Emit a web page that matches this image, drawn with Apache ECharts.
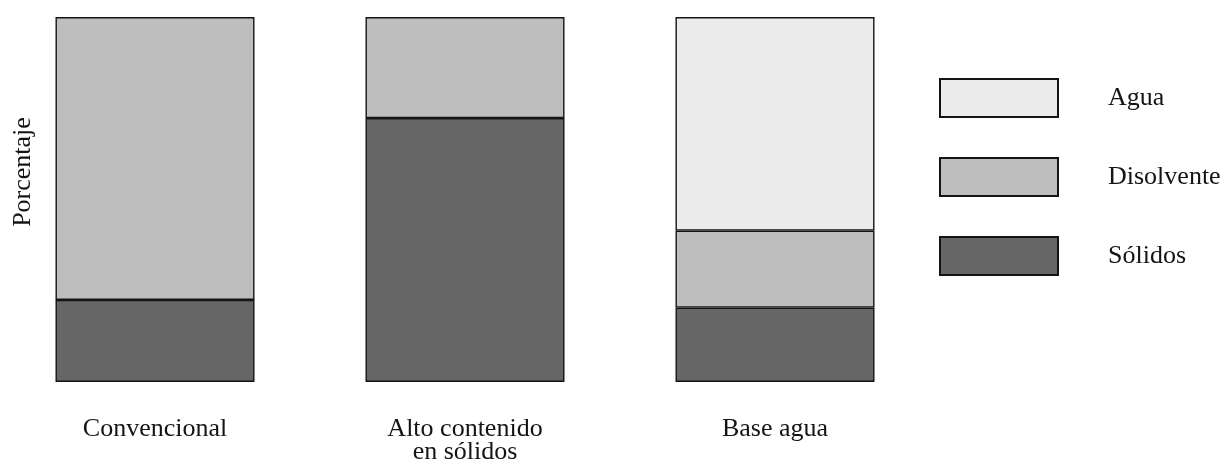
<!DOCTYPE html>
<html>
<head>
<meta charset="utf-8">
<script src="https://cdn.jsdelivr.net/npm/echarts@6/dist/echarts.min.js"></script>
<style>
  html, body { margin: 0; padding: 0; background: #ffffff; }
  #chart { width: 1222px; height: 463px; }
</style>
</head>
<body>
<div id="chart"></div>
<script>
// Composición de tipos de pintura (porcentaje)
const categories = ['Convencional', 'Alto contenido\nen sólidos', 'Base agua'];
const solidos    = [22.5, 72.3, 20.4];
const disolvente = [77.5, 27.7, 21.1];
const agua       = [null, null, 58.5];
const legendNames = ['Agua', 'Disolvente', 'Sólidos'];
const yAxisTitle = 'Porcentaje';

const FONT = '"Liberation Serif", "Times New Roman", serif';
const border = { borderColor: '#141414', borderWidth: 1.4 };

const chart = echarts.init(document.getElementById('chart'), null, { renderer: 'canvas' });

chart.setOption({
  animation: false,
  backgroundColor: '#ffffff',
  grid: { left: 0, top: 17, width: 930, height: 365, outerBoundsMode: 'none', containLabel: false },
  xAxis: {
    type: 'category',
    data: categories,
    axisLine: { show: false },
    axisTick: { show: false },
    axisLabel: {
      margin: 36,
      fontFamily: FONT,
      fontSize: 26,
      lineHeight: 23,
      color: '#141414'
    }
  },
  yAxis: {
    type: 'value',
    min: 0,
    max: 100,
    show: false
  },
  legend: {
    data: legendNames,
    orient: 'vertical',
    left: 939,
    top: 78,
    padding: 0,
    icon: 'rect',
    itemWidth: 118,
    itemHeight: 38,
    itemGap: 39,
    selectedMode: false,
    textStyle: {
      fontFamily: FONT,
      fontSize: 26,
      color: '#141414',
      padding: [8, 0, 0, 45]
    }
  },
  graphic: [{
    type: 'text',
    x: 23,
    y: 172,
    rotation: Math.PI / 2,
    style: {
      text: yAxisTitle,
      fontFamily: FONT,
      fontSize: 26,
      fill: '#141414',
      align: 'center',
      verticalAlign: 'middle'
    }
  }],
  series: [
    {
      name: 'Sólidos', type: 'bar', stack: 'total', barWidth: 199,
      itemStyle: Object.assign({ color: '#666666' }, border),
      data: solidos
    },
    {
      name: 'Disolvente', type: 'bar', stack: 'total', barWidth: 199,
      itemStyle: Object.assign({ color: '#bebebe' }, border),
      data: disolvente
    },
    {
      name: 'Agua', type: 'bar', stack: 'total', barWidth: 199,
      itemStyle: Object.assign({ color: '#ebebeb' }, border),
      data: agua
    }
  ]
});
</script>
</body>
</html>
